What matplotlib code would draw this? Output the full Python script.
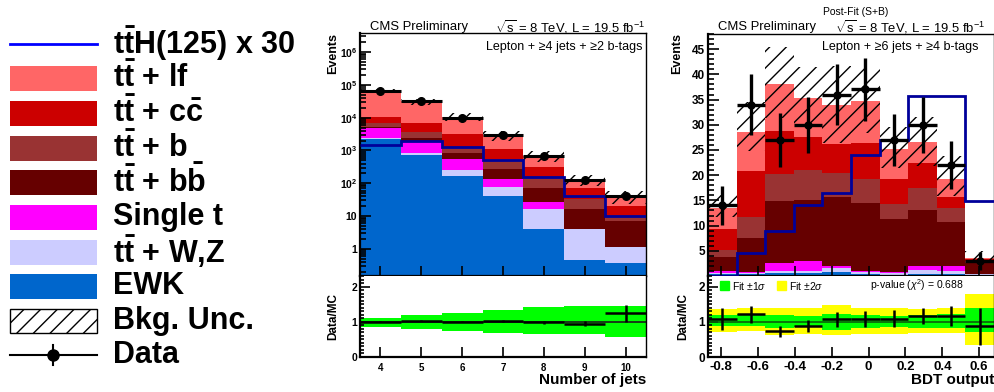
import numpy as np
import matplotlib
matplotlib.use('Agg')
import matplotlib.pyplot as plt
from matplotlib.patches import Rectangle
from matplotlib.ticker import FixedLocator, FixedFormatter, MultipleLocator, LogLocator, NullFormatter

# ---- sample names / colours (bottom -> top of the stack)
samples = ['EWK', 'tt + W,Z', 'Single t', 'tt + bb', 'tt + b', 'tt + cc', 'tt + lf']
colors = ['#0066cc', '#ccccff', '#ff00ff', '#660000', '#993333', '#cc0000', '#ff6666']

# ---- left panel: number of jets
jets = [4, 5, 6, 7, 8, 9, 10]
jets_ewk = [2190, 710, 170, 40, 4.1, 0.47, 0.37]
jets_ttvz = [160, 140, 85, 39, 12, 3.6, 0.78]
jets_singlet = [2650, 1010, 285, 56, 10, 0.1, 0.03]
jets_ttbb = [300, 490, 310, 135, 45, 11.8, 5.7]
jets_ttb = [1600, 1370, 350, 240, 72, 17, 2.9]
jets_ttcc = [3800, 3180, 1900, 580, 182, 37, 11.2]
jets_ttlf = [54200, 24700, 7600, 1870, 350, 56, 19]
jets_signal = [1470, 2000, 1300, 510, 160, 40, 10]
jets_data = [64900, 31600, 10000, 2900, 680, 126, 42]
jets_data_err = [255, 178, 100, 54, 26, 11, 6.5]
jets_unc_up = [0.12, 0.19, 0.26, 0.34, 0.41, 0.45, 0.45]
jets_unc_dn = [0.15, 0.21, 0.27, 0.32, 0.36, 0.35, 0.43]
jets_ratio = [1.0, 1.03, 1.0, 1.02, 0.98, 0.95, 1.24]
jets_ratio_err = [0.01, 0.01, 0.02, 0.03, 0.04, 0.08, 0.25]

# ---- right panel: BDT output (post-fit)
bdt_edges = [-0.87, -0.715, -0.56, -0.405, -0.25, -0.095, 0.06, 0.215, 0.37, 0.525, 0.68]
bdt_ewk = [0.3, 0.3, 0.5, 0.5, 0.8, 0.3, 0.2, 0.3, 0.3, 0.2]
bdt_ttvz = [0.2, 0.3, 0.5, 0.5, 0.8, 0.5, 0.3, 0.8, 0.7, 0.1]
bdt_singlet = [0.5, 0.2, 1.6, 1.9, 0.3, 0.2, 0.2, 0.8, 0.9, 0.1]
bdt_ttbb = [2.8, 6.7, 12.2, 12.1, 13.7, 13.5, 10.6, 11.2, 8.8, 2.2]
bdt_ttb = [1.3, 4.3, 5.4, 6.1, 4.8, 4.8, 3.0, 4.3, 2.8, 0.3]
bdt_ttcc = [4.3, 9.1, 8.6, 6.4, 5.7, 7.0, 5.0, 5.0, 2.1, 0.4]
bdt_ttlf = [4.1, 7.6, 9.3, 7.9, 7.8, 8.4, 5.9, 4.1, 3.7, 0.3]
bdt_signal = [0.0, 4.5, 9.0, 14.0, 16.4, 24.0, 27.0, 35.8, 35.7, 14.8]
bdt_data = [14, 34, 27, 30, 36, 37, 27, 30, 22, 3]
bdt_data_err = [3.9, 6.0, 5.3, 5.6, 6.0, 6.2, 5.2, 5.6, 4.8, 1.8]
bdt_1s_up = [1.19, 1.21, 1.19, 1.17, 1.23, 1.19, 1.17, 1.19, 1.23, 1.38]
bdt_1s_dn = [0.87, 0.87, 0.82, 0.85, 0.78, 0.82, 0.85, 0.82, 0.82, 0.70]
bdt_2s_up = [1.36, 1.38, 1.39, 1.39, 1.49, 1.39, 1.38, 1.36, 1.38, 1.78]
bdt_2s_dn = [0.70, 0.73, 0.63, 0.66, 0.63, 0.66, 0.66, 0.68, 0.68, 0.34]
bdt_ratio = [1.07, 1.21, 0.73, 0.87, 1.07, 1.09, 1.09, 1.17, 1.17, 0.87]
bdt_ratio_err = [0.31, 0.24, 0.16, 0.17, 0.21, 0.23, 0.25, 0.23, 0.28, 0.53]

plt.rcParams['font.family'] = ['Liberation Sans', 'DejaVu Sans']
plt.rcParams['font.weight'] = 'bold'
plt.rcParams['mathtext.fontset'] = 'custom'
plt.rcParams['mathtext.rm'] = 'Liberation Sans:weight=normal'
plt.rcParams['mathtext.it'] = 'Liberation Sans:style=italic:weight=normal'
plt.rcParams['mathtext.bf'] = 'Liberation Sans:weight=bold'
plt.rcParams['hatch.linewidth'] = 1.0

W, H = 995, 392
fig = plt.figure(figsize=(W / 100, H / 100), dpi=100)


def box(l, t, r, b):
    return [l / W, 1 - b / H, (r - l) / W, (b - t) / H]


ax1 = fig.add_axes(box(360, 33, 646, 276))
ax1r = fig.add_axes(box(360, 276, 646, 357))
ax2 = fig.add_axes(box(708, 34, 994, 276))
ax2r = fig.add_axes(box(708, 276, 994, 357))


def draw_stack(ax, x, w, comps):
    bottom = np.zeros(len(x))
    for vals, col in zip(comps, colors):
        vals = np.asarray(vals, float)
        ax.bar(x, vals, width=w, bottom=bottom, color=col, linewidth=0, zorder=1)
        bottom = bottom + vals
    return bottom


def style(ax):
    for s in ax.spines.values():
        s.set_linewidth(1.0)
    ax.spines['left'].set_linewidth(1.6)
    ax.spines['bottom'].set_linewidth(1.6)
    ax.tick_params(which='both', direction='in', top=False, right=False, width=1.2)


# ---------------- left panel
jx = np.array(jets, float)
jedges = np.append(jx - 0.5, jx[-1] + 0.5)
ax1.set_yscale('log')
tot = draw_stack(ax1, jx, 1.0, [jets_ewk, jets_ttvz, jets_singlet, jets_ttbb, jets_ttb, jets_ttcc, jets_ttlf])
up = tot * np.array(jets_unc_up)
dn = tot * np.array(jets_unc_dn)
ax1.bar(jx, up + dn, bottom=tot - dn, width=1.0, fill=False, hatch='//', edgecolor='black', linewidth=0, zorder=2)
ax1.stairs(jets_signal, jedges, color='#00009a', lw=2, baseline=None, zorder=3)
ax1.errorbar(jx, jets_data, yerr=jets_data_err, xerr=0.5, fmt='o', color='black', ms=5.5,
             elinewidth=2.2, capsize=0, zorder=4)
ax1.set_xlim(3.5, 10.5)
ax1.set_ylim(0.15, 3.8e6)
ax1.yaxis.set_major_locator(FixedLocator([1, 10, 1e2, 1e3, 1e4, 1e5, 1e6]))
ax1.yaxis.set_major_formatter(FixedFormatter(['1', '10'] + [r'$\mathbf{10^{%d}}$' % k for k in range(2, 7)]))
ax1.yaxis.set_minor_locator(LogLocator(base=10, subs=np.arange(2, 10)))
ax1.yaxis.set_minor_formatter(NullFormatter())
ax1.xaxis.set_major_locator(FixedLocator(jets))
style(ax1)
ax1.tick_params(axis='x', labelbottom=False, length=7)
ax1.tick_params(axis='y', which='major', length=8, labelsize=7.5, pad=2)
ax1.tick_params(axis='y', which='minor', length=4)

ax1r.bar(jx, np.array(jets_unc_up) + np.array(jets_unc_dn), bottom=1 - np.array(jets_unc_dn),
         width=1.0, color='#00ff00', linewidth=0, zorder=1)
ax1r.axhline(1, color='#1a1a1a', lw=1.2, zorder=2)
ax1r.errorbar(jx, jets_ratio, yerr=jets_ratio_err, xerr=0.5, fmt='none', ecolor='black',
              elinewidth=1.8, capsize=0, zorder=3)
ax1r.set_xlim(3.5, 10.5)
ax1r.set_ylim(0, 2.3)
ax1r.yaxis.set_major_locator(FixedLocator([0, 1, 2]))
ax1r.yaxis.set_minor_locator(MultipleLocator(0.1))
ax1r.xaxis.set_major_locator(FixedLocator(jets))
style(ax1r)
ax1r.spines['top'].set_visible(False)
ax1r.tick_params(axis='x', length=7, labelsize=7, pad=4)
ax1r.tick_params(axis='y', which='major', length=7, labelsize=7.5, pad=2)
ax1r.tick_params(axis='y', which='minor', length=3)

# ---------------- right panel
be = np.array(bdt_edges)
bx = 0.5 * (be[:-1] + be[1:])
bw = np.diff(be)
tot2 = draw_stack(ax2, bx, bw, [bdt_ewk, bdt_ttvz, bdt_singlet, bdt_ttbb, bdt_ttb, bdt_ttcc, bdt_ttlf])
u1 = tot2 * (np.array(bdt_1s_up) - 1)
d1 = tot2 * (1 - np.array(bdt_1s_dn))
ax2.bar(bx, u1 + d1, bottom=tot2 - d1, width=bw, fill=False, hatch='//', edgecolor='black', linewidth=0, zorder=2)
ax2.stairs(bdt_signal, be, color='#00009a', lw=2, baseline=None, zorder=3)
ax2.errorbar(bx, bdt_data, yerr=bdt_data_err, xerr=bw / 2, fmt='o', color='black', ms=5,
             elinewidth=2.4, capsize=0, zorder=4)
ax2.set_xlim(be[0], be[-1])
ax2.set_ylim(0, 48)
ax2.yaxis.set_major_locator(FixedLocator([5, 10, 15, 20, 25, 30, 35, 40, 45]))
ax2.yaxis.set_minor_locator(MultipleLocator(1))
xt = [-0.8, -0.6, -0.4, -0.2, 0, 0.2, 0.4, 0.6]
ax2.xaxis.set_major_locator(FixedLocator(xt))
style(ax2)
ax2.tick_params(axis='x', labelbottom=False, length=7)
ax2.tick_params(axis='y', which='major', length=8, labelsize=8.5, pad=2)
ax2.tick_params(axis='y', which='minor', length=4)

ax2r.bar(bx, np.array(bdt_2s_up) - np.array(bdt_2s_dn), bottom=bdt_2s_dn, width=bw,
         color='#ffff00', linewidth=0, zorder=1)
ax2r.bar(bx, np.array(bdt_1s_up) - np.array(bdt_1s_dn), bottom=bdt_1s_dn, width=bw,
         color='#00ff00', linewidth=0, zorder=1)
ax2r.axhline(1, color='#0b5d0b', lw=1.2, zorder=2)
ax2r.errorbar(bx, bdt_ratio, yerr=bdt_ratio_err, xerr=bw / 2, fmt='none', ecolor='black',
              elinewidth=1.8, capsize=0, zorder=3)
ax2r.set_xlim(be[0], be[-1])
ax2r.set_ylim(0, 2.3)
ax2r.yaxis.set_major_locator(FixedLocator([0, 1, 2]))
ax2r.yaxis.set_minor_locator(MultipleLocator(0.1))
ax2r.xaxis.set_major_locator(FixedLocator(xt))
ax2r.xaxis.set_major_formatter(FixedFormatter(['-0.8', '-0.6', '-0.4', '-0.2', '0', '0.2', '0.4', '0.6']))
style(ax2r)
ax2r.spines['top'].set_visible(False)
ax2r.tick_params(axis='x', length=7, labelsize=9.5, pad=3)
ax2r.tick_params(axis='y', which='major', length=7, labelsize=8.5, pad=2)
ax2r.tick_params(axis='y', which='minor', length=3)

# ---------------- overlay for texts and legend (pixel coordinates)
ov = fig.add_axes([0, 0, 1, 1], zorder=10)
ov.set_xlim(0, W)
ov.set_ylim(H, 0)
ov.axis('off')
ov.patch.set_alpha(0)

for xl, xr in [(370, 645), (718, 985)]:
    ov.text(xl, 27, 'CMS Preliminary', ha='left', va='center', fontsize=9.4, fontweight='normal')
    ov.text(xr, 27, r'$\sqrt{\mathrm{s}}$ = 8 TeV, L = 19.5 fb$^{-1}$', ha='right', va='center',
            fontsize=9.4, fontweight='normal')
ov.text(642, 47, 'Lepton + \u22654 jets + \u22652 b-tags', ha='right', va='center', fontsize=9, fontweight='normal')
ov.text(978, 47, 'Lepton + \u22656 jets + \u22654 b-tags', ha='right', va='center', fontsize=9, fontweight='normal')
ov.text(856, 12, 'Post-Fit (S+B)', ha='center', va='center', fontsize=7.5, fontweight='normal')
for xe in [333, 677]:
    ov.text(xe, 33, 'Events', rotation=90, ha='center', va='top', fontsize=9)
for xe in [333, 683]:
    ov.text(xe, 316, 'Data/MC', rotation=90, ha='center', va='center', fontsize=8.5)
ov.text(646, 380, 'Number of jets', ha='right', va='center', fontsize=11)
ov.text(994, 380, 'BDT output', ha='right', va='center', fontsize=11)

# ratio legend
ov.add_patch(Rectangle((720, 281), 9, 9, color='#00ff00'))
ov.text(732, 285.5, r'Fit $\pm$1$\sigma$', ha='left', va='center', fontsize=7.5, fontweight='normal')
ov.add_patch(Rectangle((777, 281), 9, 9, color='#ffff00'))
ov.text(789, 285.5, r'Fit $\pm$2$\sigma$', ha='left', va='center', fontsize=7.5, fontweight='normal')
ov.text(870, 285.5, r'p-value ($\chi^{2}$) = 0.688', ha='left', va='center', fontsize=7.5, fontweight='normal')

# main legend
tt = r'$\mathbf{t\bar{t}}$'
leg_rows = [44, 78, 113, 148, 182, 217, 252, 286, 321, 355]
leg_labels = [tt + 'H(125) x 30', tt + ' + lf', tt + r' + c$\mathbf{\bar{c}}$', tt + ' + b',
              tt + r' + b$\mathbf{\bar{b}}$', 'Single t', tt + ' + W,Z', 'EWK', 'Bkg. Unc.', 'Data']
leg_fill = [None, '#ff6666', '#cc0000', '#993333', '#660000', '#ff00ff', '#ccccff', '#0066cc']
for i, (yc, lab) in enumerate(zip(leg_rows, leg_labels)):
    if i == 0:
        ov.plot([10, 97], [yc, yc], color='#0000ff', lw=2)
    elif i < 8:
        ov.add_patch(Rectangle((10, yc - 12.5), 87, 25, color=leg_fill[i], lw=0))
    elif i == 8:
        ov.add_patch(Rectangle((10, yc - 12), 87, 24, facecolor='white', edgecolor='black', hatch='//', lw=1))
    else:
        ov.plot([10, 97], [yc, yc], color='black', lw=1.5)
        ov.plot([53, 53], [yc - 10, yc + 10], color='black', lw=1.5)
        ov.plot([53], [yc], 'o', color='black', ms=8)
    ov.text(113, yc, lab, ha='left', va='center', fontsize=22)

fig.savefig('out.png', dpi=100)
